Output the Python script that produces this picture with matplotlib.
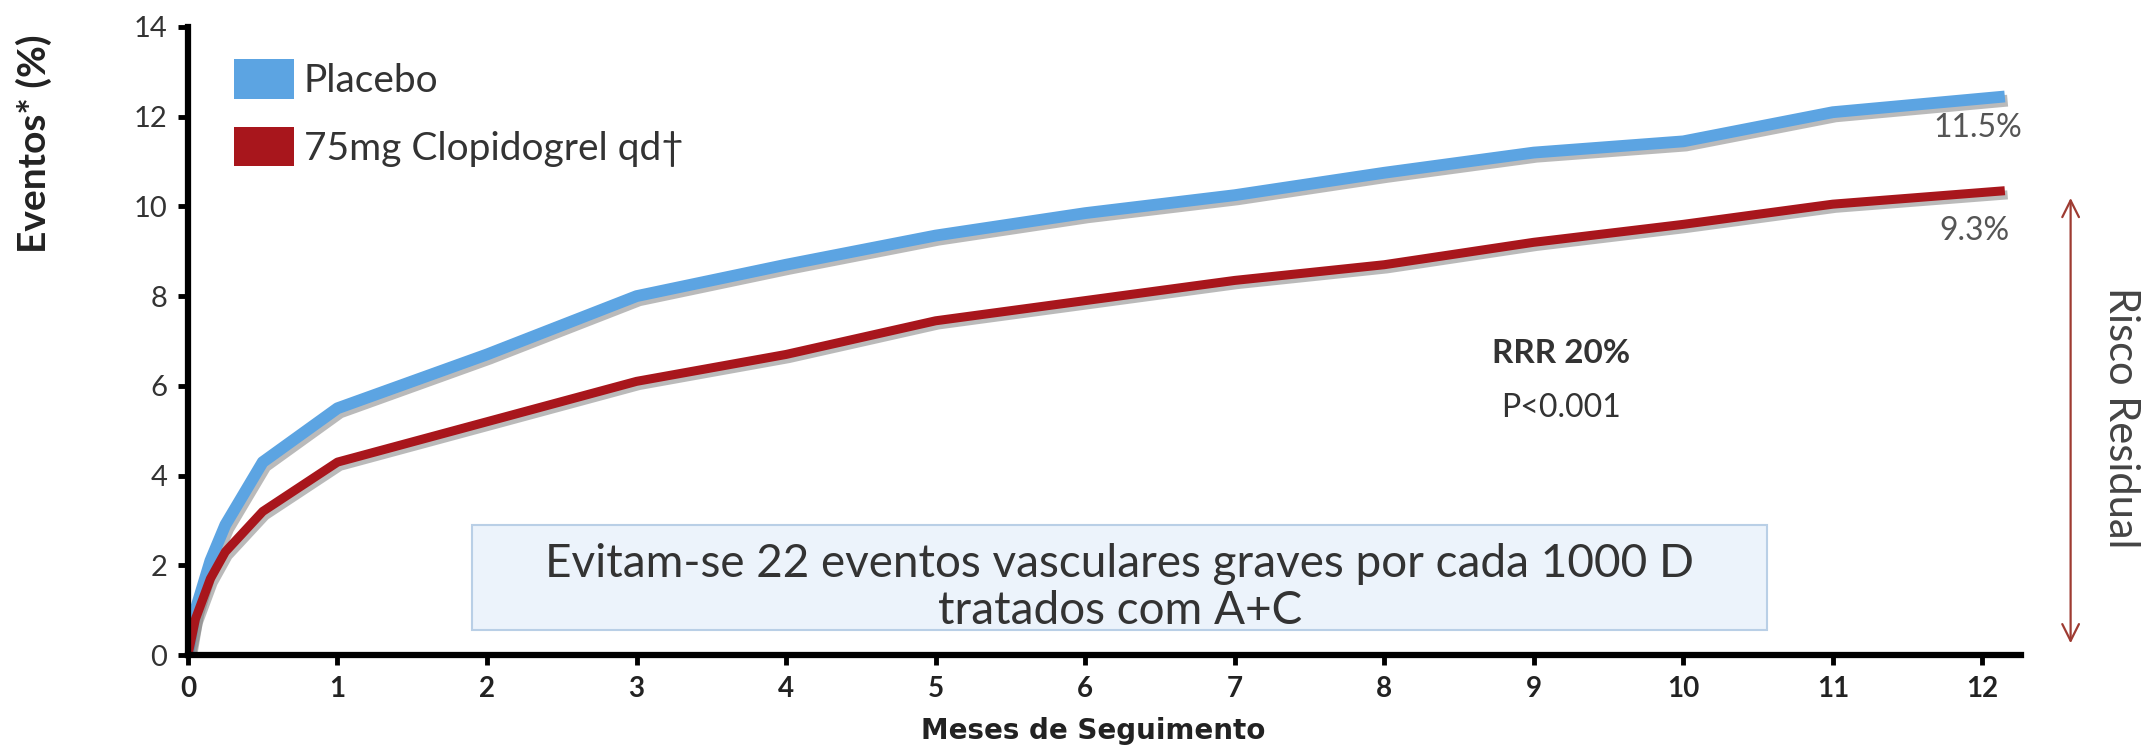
import matplotlib
matplotlib.use("Agg")
import matplotlib.pyplot as plt
import matplotlib.patheffects as pe
from matplotlib.patches import Patch, FancyBboxPatch

plt.rcParams['font.family'] = ['Lato', 'DejaVu Sans']

# Data
months = [0, 0.05, 0.15, 0.25, 0.5, 1, 2, 3, 4, 5, 6, 7, 8, 9, 10, 11, 12.15]
placebo = [0, 1.0, 2.1, 2.9, 4.3, 5.5, 6.7, 8.0, 8.7, 9.35, 9.85, 10.25, 10.75, 11.2, 11.45, 12.1, 12.45]
clopidogrel = [0, 0.8, 1.7, 2.3, 3.2, 4.3, 5.2, 6.1, 6.7, 7.45, 7.9, 8.35, 8.7, 9.2, 9.6, 10.05, 10.35]
series_labels = ['Placebo', '75mg Clopidogrel qd†']
colors = ['#5CA4E2', '#A8161C']
xticks = list(range(13))
yticks = list(range(0, 15, 2))

fig = plt.figure(figsize=(21.48, 7.49), dpi=100)
ax = fig.add_axes([0.0875, 0.1255, 0.8535, 0.8385])

shadow = [pe.SimpleLineShadow(offset=(2, -3), shadow_color='#777777', alpha=0.5), pe.Normal()]
ax.plot(months, placebo, color=colors[0], lw=8.5, solid_capstyle='butt', path_effects=shadow)
ax.plot(months, clopidogrel, color=colors[1], lw=6.5, solid_capstyle='butt', path_effects=shadow)

ax.set_xlim(0, 12.26)
ax.set_ylim(0, 14)
ax.set_xticks(xticks)
ax.set_yticks(yticks)
ax.set_xticklabels([str(t) for t in xticks], fontweight='bold', fontsize=20, color='#222222')
ax.set_yticklabels([str(t) for t in yticks], fontsize=21, color='#333333')
ax.tick_params(axis='both', length=7, width=3.5, direction='out', color='black')
ax.tick_params(axis='x', pad=8)
ax.tick_params(axis='y', pad=8)
for s in ['top', 'right']:
    ax.spines[s].set_visible(False)
for s in ['left', 'bottom']:
    ax.spines[s].set_linewidth(4.5)

ax.set_ylabel('Eventos* (%)', fontsize=28, fontweight='bold', color='#222222')
ax.yaxis.set_label_coords(-0.074, 0.814)
ax.set_xlabel('Meses de Seguimento', fontsize=20, fontweight='bold', color='#222222',
              family=['DejaVu Sans'], va='center')
ax.xaxis.set_label_coords(0.494, -0.121)

handles = [Patch(facecolor=colors[0], edgecolor='none'), Patch(facecolor=colors[1], edgecolor='none')]
ax.legend(handles, series_labels, loc='upper left', bbox_to_anchor=(0.0145, 0.98), frameon=False,
          borderpad=0, fontsize=28, handlelength=1.55, handleheight=1.2, labelspacing=0.71,
          handletextpad=0.25, labelcolor='#333333')

ax.text(11.97, 11.75, '11.5%', fontsize=23, color='#555555', ha='center', va='center')
ax.text(11.95, 9.45, '9.3%', fontsize=23, color='#555555', ha='center', va='center')

ax.text(9.18, 6.73, 'RRR 20%', fontsize=24, fontweight='bold', color='#333333', ha='center', va='center')
ax.text(9.18, 5.5, 'P<0.001', fontsize=23, color='#333333', ha='center', va='center')

box = FancyBboxPatch((1.9, 0.55), 8.66, 2.35, boxstyle='square,pad=0', facecolor='#ECF3FB',
                     edgecolor='#B9CFE6', lw=1.5, zorder=1)
ax.add_patch(box)
ax.text(6.23, 2.02, 'Evitam-se 22 eventos vasculares graves por cada 1000 D', fontsize=33,
        color='#333333', ha='center', va='center', zorder=2)
ax.text(6.23, 0.98, 'tratados com A+C', fontsize=33, color='#333333', ha='center', va='center', zorder=2)

ax.annotate('', xy=(12.59, 10.25), xytext=(12.59, 0.2),
            arrowprops=dict(arrowstyle='<->', color='#9E3B32', lw=1.6, mutation_scale=30),
            annotation_clip=False)
ax.text(12.93, 5.3, 'Risco Residual', fontsize=30, color='#444444', rotation=-90,
        ha='center', va='center', clip_on=False)

fig.savefig('out.png', dpi=100)
